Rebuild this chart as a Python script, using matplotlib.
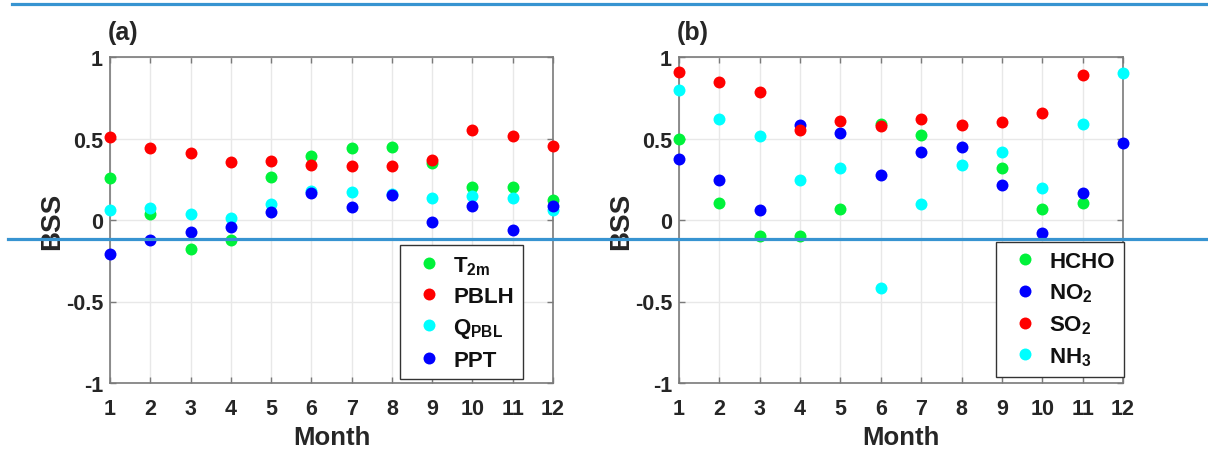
import numpy as np
import matplotlib
matplotlib.use("Agg")
import matplotlib.pyplot as plt
from matplotlib.lines import Line2D

plt.rcParams['font.family'] = ['Liberation Sans', 'DejaVu Sans']
plt.rcParams['font.weight'] = 'bold'
plt.rcParams['axes.unicode_minus'] = False
plt.rcParams['mathtext.fontset'] = 'custom'
plt.rcParams['mathtext.rm'] = 'Liberation Sans:bold'
plt.rcParams['mathtext.bf'] = 'Liberation Sans:bold'
plt.rcParams['mathtext.it'] = 'Liberation Sans:bold'

months = np.arange(1, 13)
xtick_labels = [str(m) for m in months]
yticks = [-1, -0.5, 0, 0.5, 1]
ytick_labels = ['-1', '-0.5', '0', '0.5', '1']

# Panel (a)
t2m = [0.26, 0.035, -0.18, -0.12, 0.265, 0.39, 0.44, 0.45, 0.35, 0.20, 0.205, 0.12]
pblh = [0.51, 0.44, 0.41, 0.355, 0.365, 0.335, 0.33, 0.33, 0.37, 0.55, 0.515, 0.455]
qpbl = [0.06, 0.075, 0.035, 0.01, 0.10, 0.18, 0.17, 0.16, 0.135, 0.145, 0.135, 0.06]
ppt = [-0.21, -0.12, -0.075, -0.045, 0.05, 0.165, 0.08, 0.155, -0.01, 0.085, -0.06, 0.085]

# Panel (b)
hcho = [0.50, 0.105, -0.10, -0.10, 0.07, 0.59, 0.52, np.nan, 0.32, 0.065, 0.105, np.nan]
no2 = [0.375, 0.245, 0.06, 0.58, 0.535, 0.275, 0.415, 0.445, 0.215, -0.08, 0.165, 0.47]
so2 = [0.91, 0.845, 0.785, 0.55, 0.61, 0.575, 0.62, 0.58, 0.60, 0.655, 0.89, np.nan]
nh3 = [0.795, 0.62, 0.515, 0.245, 0.32, -0.415, 0.10, 0.34, 0.415, 0.195, 0.59, 0.90]

labels_a = [r'T$_{\rm 2m}$', 'PBLH', r'Q$_{\rm PBL}$', 'PPT']
labels_b = ['HCHO', r'NO$_{\rm 2}$', r'SO$_{\rm 2}$', r'NH$_{\rm 3}$']

GREEN = '#00f23a'
RED = '#ff0000'
CYAN = '#00ffff'
BLUE = '#0000ff'

series_a = [(t2m, GREEN), (pblh, RED), (qpbl, CYAN), (ppt, BLUE)]
series_b = [(hcho, GREEN), (no2, BLUE), (so2, RED), (nh3, CYAN)]

W, H = 1208, 452
fig = plt.figure(figsize=(W / 100, H / 100), dpi=100)

ax_a = fig.add_axes([110 / W, (H - 384) / H, 443 / W, 326 / H])
ax_b = fig.add_axes([679 / W, (H - 384) / H, 444 / W, 326 / H])

AXCOL = '#7a7a7a'
TXTCOL = '#262626'


def style(ax, series, labels, tag, leg_anchor):
    for (vals, col), lab in zip(series, labels):
        ax.plot(months, vals, linestyle='none', marker='o', markersize=8.6,
                markeredgewidth=0, color=col, label=lab, clip_on=False, zorder=3)
    ax.set_xlim(1, 12)
    ax.set_ylim(-1, 1)
    ax.set_xticks(months)
    ax.set_xticklabels(xtick_labels)
    ax.set_yticks(yticks)
    ax.set_yticklabels(ytick_labels)
    ax.grid(True, color='#e8e8e8', linewidth=1.0, zorder=0)
    ax.set_axisbelow(True)
    for sp in ax.spines.values():
        sp.set_color(AXCOL)
        sp.set_linewidth(1.2)
    ax.tick_params(direction='in', length=4, width=1.0, color=AXCOL,
                   top=True, right=True, labelsize=15.5, labelcolor=TXTCOL)
    ax.tick_params(axis='x', pad=11)
    ax.tick_params(axis='y', pad=5)
    ax.set_xlabel('Month', fontsize=18.5, fontweight='bold', color=TXTCOL)
    ax.set_ylabel('BSS', fontsize=20, fontweight='bold', color=TXTCOL)
    ax.xaxis.set_label_coords(0.5, -0.128)
    ax.yaxis.set_label_coords(-0.102, 0.5)
    ax.text(-0.004, 1.054, tag, transform=ax.transAxes, ha='left', va='baseline',
            fontsize=18, fontweight='bold', color=TXTCOL)
    leg = ax.legend(loc='upper left', bbox_to_anchor=leg_anchor, borderaxespad=0,
                    fontsize=16, frameon=True, fancybox=False, framealpha=1,
                    edgecolor='#333333', handlelength=1.8, handletextpad=0.2,
                    labelspacing=0.42, borderpad=0.4, numpoints=1)
    leg.get_frame().set_linewidth(1.0)
    for t in leg.get_texts():
        t.set_color('#111111')
    return leg


style(ax_a, series_a, labels_a, '(a)', (0.655, 0.423))
style(ax_b, series_b, labels_b, '(b)', (0.714, 0.432))

LINECOL = '#3794d1'
fig.add_artist(Line2D([12 / W, 1.0], [1 - 5 / H, 1 - 5 / H], transform=fig.transFigure,
                      color=LINECOL, linewidth=2.3, zorder=10))
fig.add_artist(Line2D([8 / W, 1.0], [1 - 239.5 / H, 1 - 239.5 / H], transform=fig.transFigure,
                      color=LINECOL, linewidth=2.3, zorder=10))

fig.savefig('out.png', dpi=100, facecolor='white')
